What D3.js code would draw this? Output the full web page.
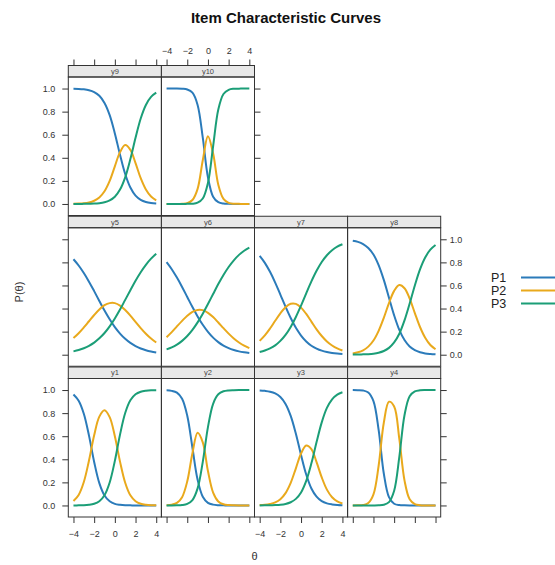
<!DOCTYPE html>
<html>
<head>
<script src="https://cdn.jsdelivr.net/npm/d3@7"></script>
<style>
  body { margin: 0; background: white; }
  svg { display: block; font-family: "Liberation Sans", Arial, sans-serif; }
</style>
</head>
<body>
<script>
// ---- data ----
const theta = [-4, -3.5, -3, -2.5, -2, -1.5, -1, -0.5, 0, 0.5, 1, 1.5, 2, 2.5, 3, 3.5, 4]
const thetaTicks = [-4, -2, 0, 2, 4]
const probTicks = [0, 0.2, 0.4, 0.6, 0.8, 1]
const itemNames = ['y1', 'y2', 'y3', 'y4', 'y5', 'y6', 'y7', 'y8', 'y9', 'y10']
const seriesNames = ['P1', 'P2', 'P3']

const y1P1 = [.962, .908, .795, .605, .377, .193, .086, .036, .014, .006, .002, .001, 0, 0, 0, 0, 0]
const y1P2 = [.038, .091, .203, .389, .608, .770, .825, .765, .600, .380, .197, .088, .037, .015, .006, .002, .001]
const y1P3 = [0, .001, .002, .006, .015, .037, .089, .199, .386, .614, .801, .911, .963, .985, .994, .998, .999]

const y2P1 = [.998, .993, .977, .924, .777, .500, .223, .076, .023, .007, .002, .001, 0, 0, 0, 0, 0]
const y2P2 = [.002, .007, .022, .072, .209, .453, .629, .546, .298, .112, .035, .010, .003, .001, 0, 0, 0]
const y2P3 = [0, 0, .001, .004, .014, .047, .148, .378, .679, .881, .963, .989, .997, .999, 1, 1, 1]

const y3P1 = [.997, .993, .986, .971, .940, .880, .776, .621, .437, .268, .147, .076, .037, .018, .009, .004, .002]
const y3P2 = [.003, .006, .013, .026, .054, .107, .196, .322, .450, .519, .488, .375, .243, .137, .071, .035, .017]
const y3P3 = [0, .001, .001, .003, .006, .013, .028, .057, .113, .213, .365, .549, .720, .845, .920, .961, .981]

const y4P1 = [1, .999, .996, .979, .904, .655, .277, .072, .015, .003, .001, 0, 0, 0, 0, 0, 0]
const y4P2 = [0, .001, .004, .021, .096, .344, .717, .899, .857, .576, .217, .053, .011, .002, 0, 0, 0]
const y4P3 = [0, 0, 0, 0, 0, .001, .006, .029, .128, .421, .782, .947, .989, .998, 1, 1, 1]

const y5P1 = [.827, .773, .708, .633, .551, .466, .383, .307, .239, .183, .138, .102, .075, .054, .039, .028, .020]
const y5P2 = [.144, .186, .236, .290, .344, .392, .429, .447, .447, .426, .387, .339, .284, .231, .182, .140, .106]
const y5P3 = [.029, .041, .056, .077, .105, .142, .188, .246, .314, .391, .475, .559, .641, .715, .779, .832, .874]

const y6P1 = [.802, .741, .668, .587, .500, .413, .332, .259, .198, .148, .109, .079, .057, .041, .029, .021, .015]
const y6P2 = [.152, .196, .245, .293, .338, .372, .388, .386, .363, .326, .279, .230, .183, .141, .106, .078, .057]
const y6P3 = [.046, .063, .087, .120, .162, .215, .280, .355, .439, .526, .612, .691, .760, .818, .865, .901, .928]

const y7P1 = [.856, .796, .718, .625, .521, .416, .318, .233, .166, .115, .078, .053, .035, .023, .015, .010, .007]
const y7P2 = [.120, .167, .227, .294, .359, .412, .441, .440, .408, .353, .287, .220, .162, .115, .080, .054, .036]
const y7P3 = [.024, .037, .055, .081, .120, .172, .241, .327, .426, .532, .635, .727, .803, .862, .905, .936, .957]

const y8P1 = [.988, .978, .959, .925, .868, .776, .648, .494, .341, .215, .127, .071, .039, .021, .011, .006, .003]
const y8P2 = [.011, .021, .038, .070, .123, .207, .320, .447, .553, .603, .576, .486, .361, .240, .147, .084, .047]
const y8P3 = [.001, .001, .003, .005, .009, .017, .032, .059, .106, .182, .297, .443, .600, .739, .842, .910, .950]

const y9P1 = [.998, .997, .993, .985, .969, .937, .875, .769, .611, .426, .259, .142, .072, .036, .017, .008, .004]
const y9P2 = [.002, .003, .006, .013, .028, .056, .110, .200, .326, .449, .510, .469, .354, .223, .125, .064, .032]
const y9P3 = [0, 0, .001, .002, .003, .007, .015, .031, .063, .125, .231, .389, .574, .741, .858, .928, .964]

const y10P1 = [1, 1, 1, .998, .992, .964, .858, .574, .231, .063, .015, .003, .001, 0, 0, 0, 0]
const y10P2 = [0, 0, 0, .002, .007, .034, .131, .379, .587, .437, .167, .044, .010, .002, .001, 0, 0]
const y10P3 = [0, 0, 0, 0, .001, .002, .011, .047, .182, .500, .818, .953, .989, .998, .999, 1, 1]

const curves = {
  y1: [y1P1, y1P2, y1P3], y2: [y2P1, y2P2, y2P3], y3: [y3P1, y3P2, y3P3],
  y4: [y4P1, y4P2, y4P3], y5: [y5P1, y5P2, y5P3], y6: [y6P1, y6P2, y6P3],
  y7: [y7P1, y7P2, y7P3], y8: [y8P1, y8P2, y8P3], y9: [y9P1, y9P2, y9P3],
  y10: [y10P1, y10P2, y10P3]
}

// ---- layout / style ----
const colors = ['#2b7bba', '#e9a91c', '#1b9e77']
const ink = '#333'
const colLeft = 68.3, colW = 93.1
const rowTop = 65.5, rowStep = 150.75, stripH = 11.5, plotH = 138.5
const tickLen = 6

const svg = d3.select('body').append('svg')
  .attr('width', 555)
  .attr('height', 565)

const xScale = col => d3.scaleLinear().domain([-4.5, 4.5])
  .range([colLeft + col * colW, colLeft + (col + 1) * colW])
const yScale = row => d3.scaleLinear().domain([-0.1, 1.1])
  .range([rowTop + row * rowStep + stripH + plotH, rowTop + row * rowStep + stripH])

function styleAxis(g, fontSize) {
  g.attr('font-size', fontSize).attr('font-family', null)
  g.select('.domain').remove()
  g.selectAll('line').attr('stroke', ink)
  g.selectAll('text').attr('fill', ink)
}

const noLabel = () => ''
const fmt = d3.format('.1f')

// panels: y1-y4 bottom row, y5-y8 middle, y9-y10 top
itemNames.forEach((name, i) => {
  const col = i % 4
  const row = 2 - Math.floor(i / 4)
  const x = xScale(col)
  const y = yScale(row)
  const left = x.range()[0], right = x.range()[1]
  const top = rowTop + row * rowStep

  const g = svg.append('g')

  // strip
  g.append('rect')
    .attr('x', left).attr('y', top)
    .attr('width', right - left).attr('height', stripH)
    .attr('fill', '#e8e8e8').attr('stroke', ink).attr('stroke-width', 1)
  g.append('text')
    .attr('x', (left + right) / 2).attr('y', top + stripH / 2 + 2.6)
    .attr('text-anchor', 'middle')
    .attr('font-size', 7.5).attr('fill', '#444')
    .text(name)

  const line = d3.line()
    .x((d, j) => x(theta[j]))
    .y(d => y(d))
    .curve(d3.curveCatmullRom.alpha(0.5))

  curves[name].forEach((vals, s) => {
    g.append('path')
      .attr('d', line(vals))
      .attr('fill', 'none')
      .attr('stroke', colors[s])
      .attr('stroke-width', 2)
  })

  // panel border
  g.append('rect')
    .attr('x', left).attr('y', y.range()[1])
    .attr('width', right - left).attr('height', plotH)
    .attr('fill', 'none').attr('stroke', ink).attr('stroke-width', 1)

  // bottom axis on the bottom row, alternating labels
  if (row === 2) {
    svg.append('g')
      .attr('transform', `translate(0,${y.range()[0]})`)
      .call(d3.axisBottom(x).tickValues(thetaTicks).tickSize(tickLen).tickPadding(8)
        .tickFormat(col % 2 === 0 ? null : noLabel))
      .call(styleAxis, 9)
  }
  // top axis above the top row
  if (row === 0) {
    svg.append('g')
      .attr('transform', `translate(0,${top})`)
      .call(d3.axisTop(x).tickValues(thetaTicks).tickSize(tickLen).tickPadding(6)
        .tickFormat(col === 1 ? null : noLabel))
      .call(styleAxis, 9)
  }
  // left axis on first column
  if (col === 0) {
    svg.append('g')
      .attr('transform', `translate(${left},0)`)
      .call(d3.axisLeft(y).tickValues(probTicks).tickSize(tickLen).tickPadding(7)
        .tickFormat(row === 1 ? noLabel : fmt))
      .call(styleAxis, 9)
  }
  // right axis on last panel of each row
  const lastCol = row === 0 ? 1 : 3
  if (col === lastCol) {
    svg.append('g')
      .attr('transform', `translate(${right},0)`)
      .call(d3.axisRight(y).tickValues(probTicks).tickSize(tickLen).tickPadding(3)
        .tickFormat(row === 1 ? fmt : noLabel))
      .call(styleAxis, 9)
  }
})

// title and axis labels
svg.append('text')
  .attr('x', 286).attr('y', 22.5)
  .attr('text-anchor', 'middle')
  .attr('font-size', 15).attr('font-weight', 'bold').attr('fill', '#111')
  .text('Item Characteristic Curves')

svg.append('text')
  .attr('x', 254.5).attr('y', 560)
  .attr('text-anchor', 'middle')
  .attr('font-size', 11).attr('fill', ink)
  .text('θ')

svg.append('text')
  .attr('transform', 'translate(23,292) rotate(-90)')
  .attr('text-anchor', 'middle')
  .attr('font-size', 11).attr('fill', ink)
  .text('P(θ)')

// legend
const legend = svg.append('g')
seriesNames.forEach((s, i) => {
  const cy = 277.5 + i * 13
  legend.append('text')
    .attr('x', 491).attr('y', cy + 4.5)
    .attr('font-size', 12.5).attr('fill', '#222')
    .text(s)
  legend.append('line')
    .attr('x1', 521).attr('x2', 560)
    .attr('y1', cy).attr('y2', cy)
    .attr('stroke', colors[i]).attr('stroke-width', 2)
})
</script>
</body>
</html>
